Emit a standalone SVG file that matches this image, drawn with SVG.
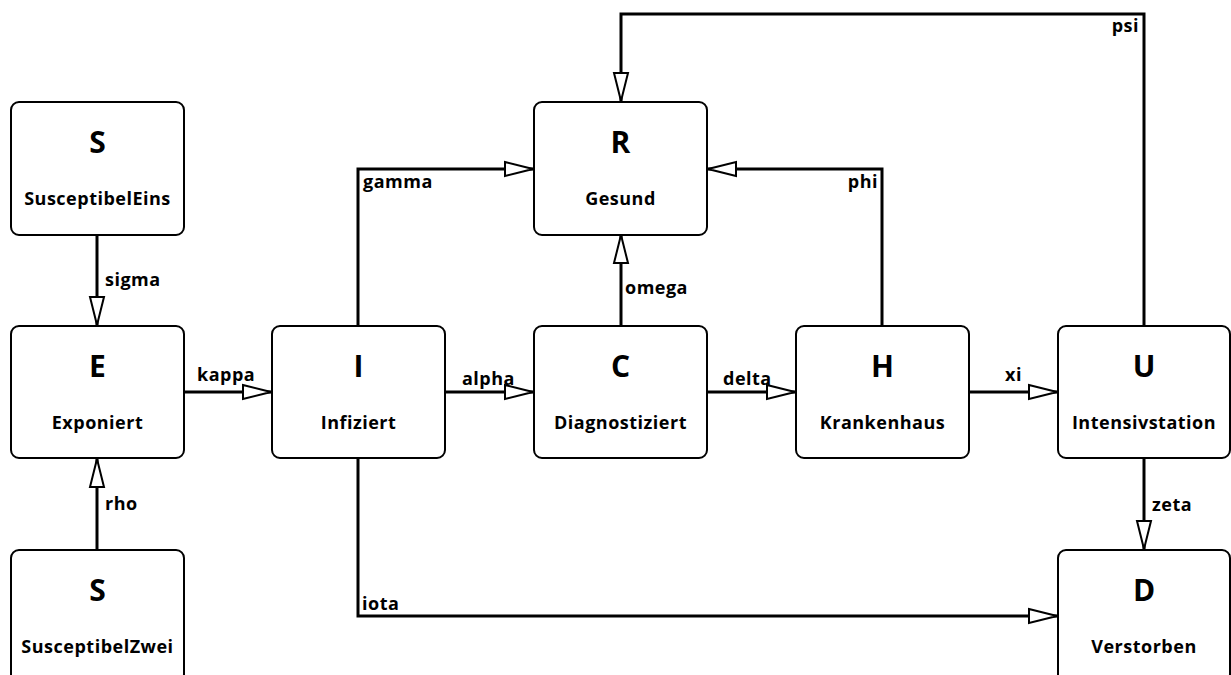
<svg xmlns="http://www.w3.org/2000/svg" width="1231" height="675" viewBox="0 0 1231 675">
<style>
.box{fill:#fff;stroke:#000;stroke-width:2}
.t{font-family:"Open Sans","DejaVu Sans",sans-serif;font-weight:bold;fill:#000;text-anchor:middle}
.big{font-size:30px}
.sub{font-size:18px;letter-spacing:0.5px}
.lbl{font-family:"Open Sans","DejaVu Sans",sans-serif;font-weight:bold;font-size:18px;letter-spacing:0.5px;fill:#000}
.c{fill:none;stroke:#000;stroke-width:3;marker-end:url(#a)}
</style>
<defs>
<marker id="a" markerUnits="userSpaceOnUse" markerWidth="32" markerHeight="18" refX="28" refY="8" orient="auto" viewBox="-2 -1 32 18">
<path d="M0,1 L28,8 L0,15 Z" fill="#fff" stroke="#000" stroke-width="2"/>
</marker>
</defs>
<rect width="1231" height="675" fill="#fff"/>
<g id="connectors">
<path class="c" d="M97,235 V325"/>
<path class="c" d="M97,550 V459"/>
<path class="c" d="M184,392 H271"/>
<path class="c" d="M445,392 H533"/>
<path class="c" d="M707,392 H795"/>
<path class="c" d="M969,392 H1057"/>
<path class="c" d="M358,326 V169 H533"/>
<path class="c" d="M621,326 V235"/>
<path class="c" d="M882,326 V169 H708"/>
<path class="c" d="M1144,326 V14 H621 V101"/>
<path class="c" d="M1144,458 V549"/>
<path class="c" d="M358,458 V616 H1057"/>
<text class="lbl" x="105" y="286">sigma</text>
<text class="lbl" x="105" y="510">rho</text>
<text class="lbl" x="197" y="381">kappa</text>
<text class="lbl" x="462" y="385">alpha</text>
<text class="lbl" x="723" y="385">delta</text>
<text class="lbl" x="1005" y="381">xi</text>
<text class="lbl" x="363" y="188">gamma</text>
<text class="lbl" x="625" y="294">omega</text>
<text class="lbl" x="878" y="188" text-anchor="end">phi</text>
<text class="lbl" x="1139" y="32" text-anchor="end">psi</text>
<text class="lbl" x="1152" y="511">zeta</text>
<text class="lbl" x="362" y="610">iota</text>
</g>
<g id="S1"><rect class="box" x="11" y="102" width="173" height="133" rx="8"/><text class="t big" x="97.5" y="153">S</text><text class="t sub" x="97.5" y="205">SusceptibelEins</text></g>
<g id="E"><rect class="box" x="11" y="326" width="173" height="132" rx="8"/><text class="t big" x="97.5" y="377">E</text><text class="t sub" x="97.5" y="429">Exponiert</text></g>
<g id="S2"><rect class="box" x="11" y="550" width="173" height="132" rx="8"/><text class="t big" x="97.5" y="601">S</text><text class="t sub" x="97.5" y="653">SusceptibelZwei</text></g>
<g id="I"><rect class="box" x="272" y="326" width="173" height="132" rx="8"/><text class="t big" x="358.5" y="377">I</text><text class="t sub" x="358.5" y="429">Infiziert</text></g>
<g id="R"><rect class="box" x="534" y="102" width="173" height="133" rx="8"/><text class="t big" x="620.5" y="153">R</text><text class="t sub" x="620.5" y="205">Gesund</text></g>
<g id="C"><rect class="box" x="534" y="326" width="173" height="132" rx="8"/><text class="t big" x="620.5" y="377">C</text><text class="t sub" x="620.5" y="429">Diagnostiziert</text></g>
<g id="H"><rect class="box" x="796" y="326" width="173" height="132" rx="8"/><text class="t big" x="882.5" y="377">H</text><text class="t sub" x="882.5" y="429">Krankenhaus</text></g>
<g id="U"><rect class="box" x="1058" y="326" width="172" height="132" rx="8"/><text class="t big" x="1144" y="377">U</text><text class="t sub" x="1144" y="429">Intensivstation</text></g>
<g id="D"><rect class="box" x="1058" y="550" width="172" height="132" rx="8"/><text class="t big" x="1144" y="601">D</text><text class="t sub" x="1144" y="653">Verstorben</text></g>
</svg>
